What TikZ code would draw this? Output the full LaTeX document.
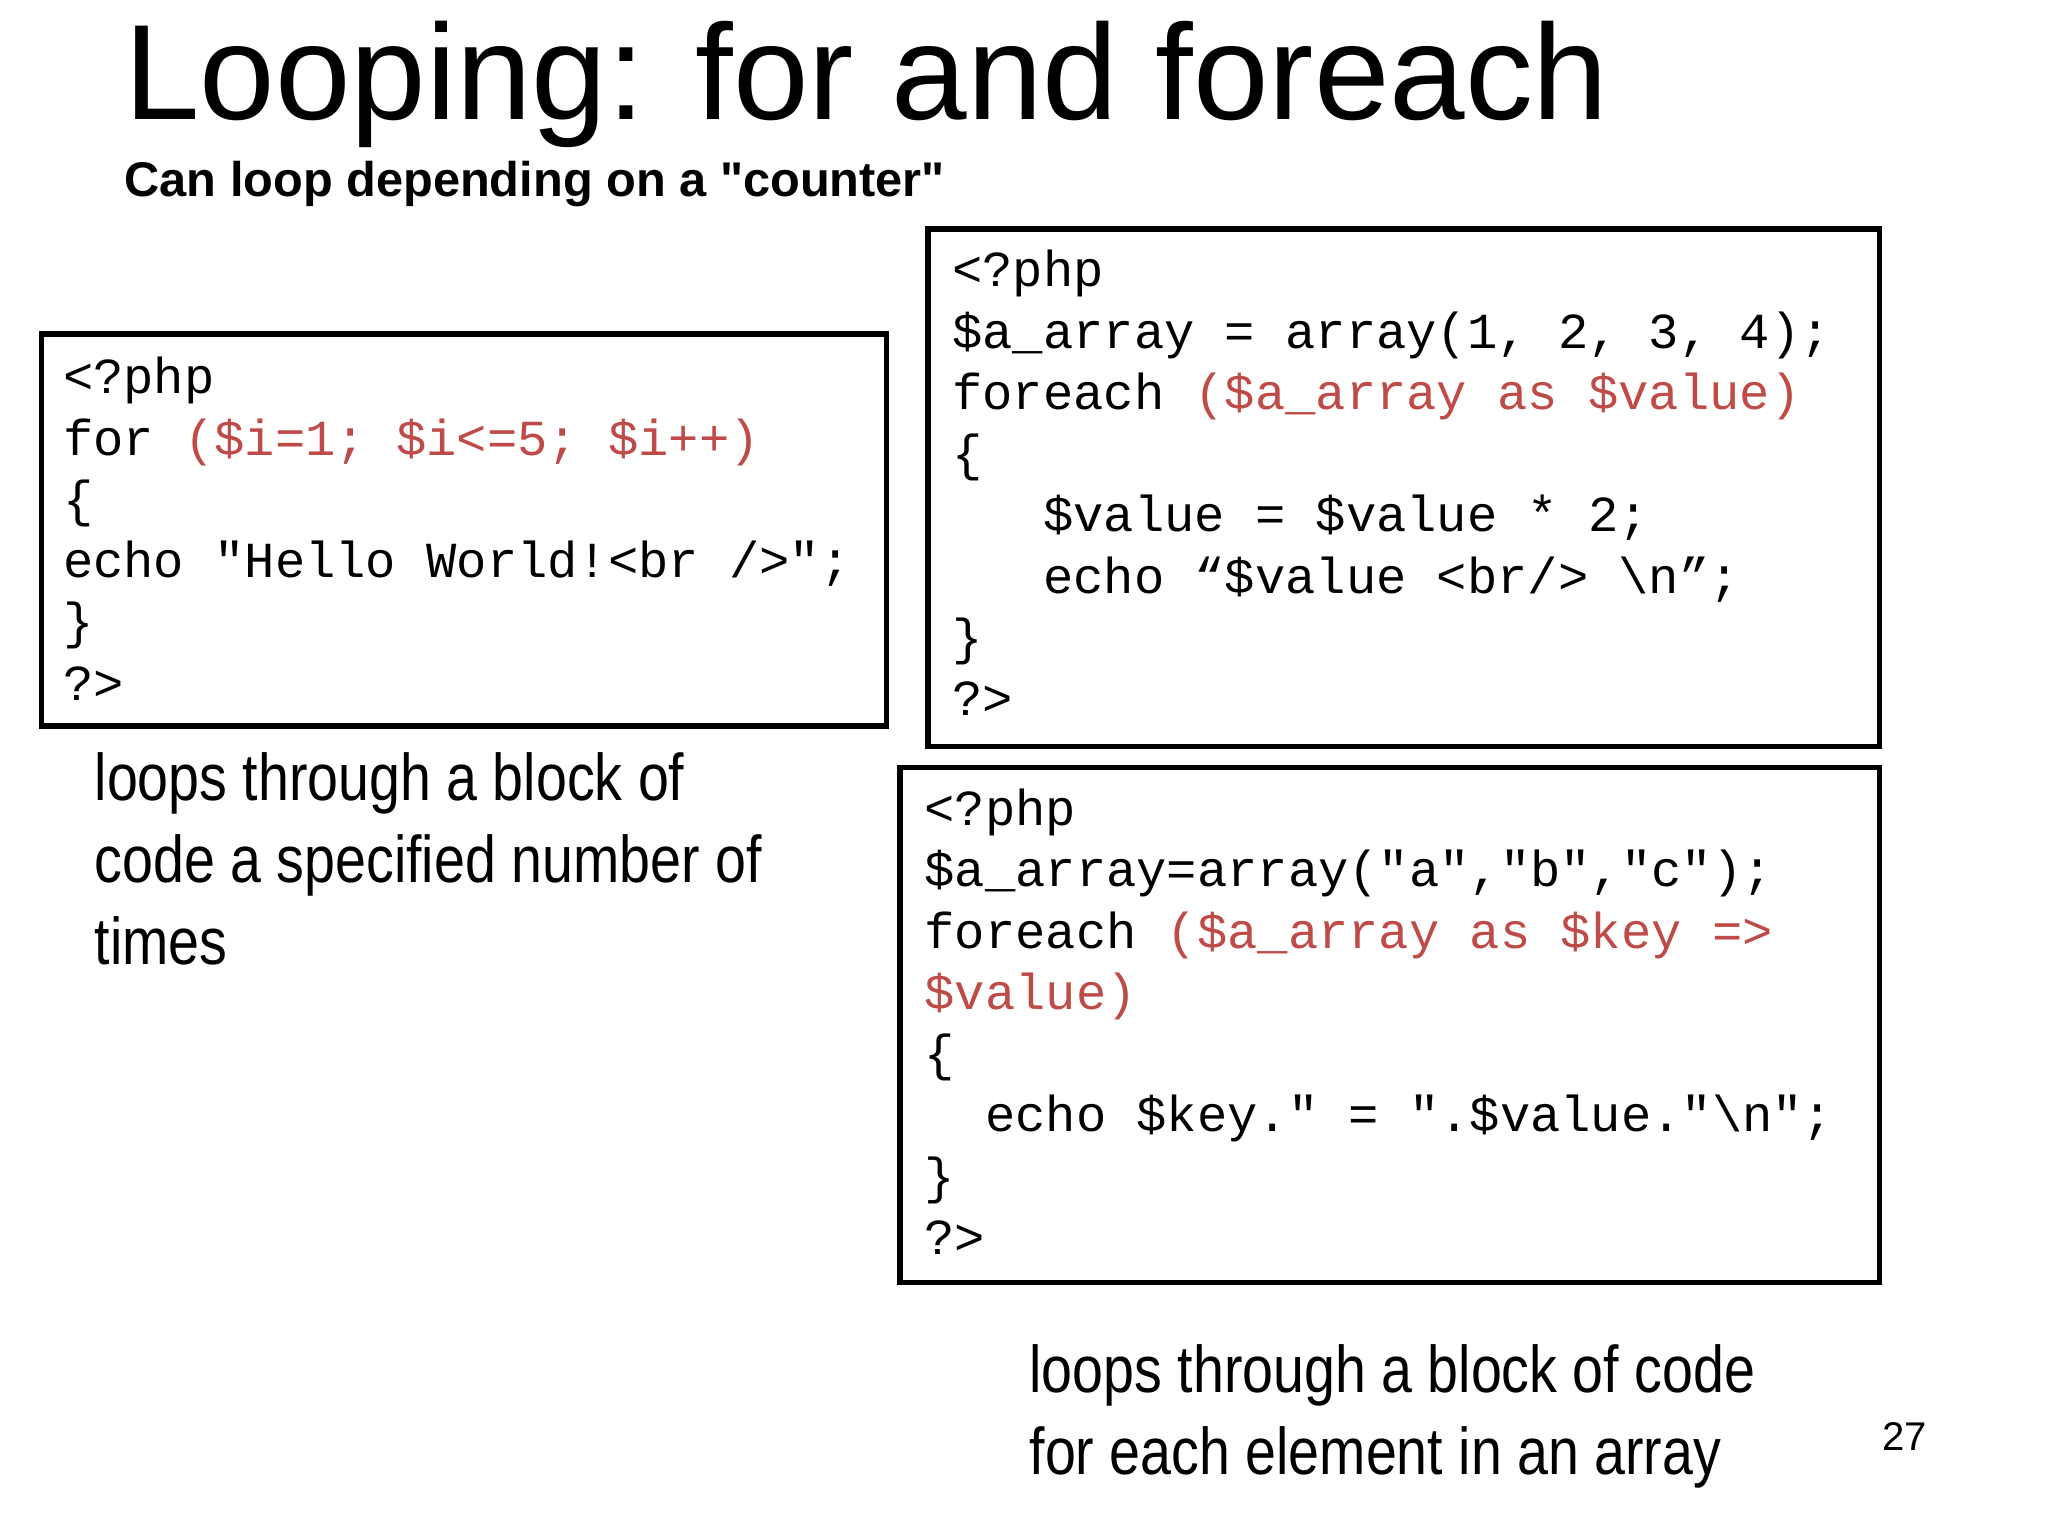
\documentclass[tikz,border=0pt]{standalone}
\usepackage{fontspec}
\setmainfont{Liberation Sans}
\setmonofont{Liberation Mono}
\newfontfamily\plainsans[Ligatures=TeXOff]{Liberation Sans}
\usetikzlibrary{positioning}
\definecolor{codered}{RGB}{190,75,72}
\newcommand{\kw}[1]{\textcolor{codered}{#1}}

\begin{document}
\begin{tikzpicture}
		\useasboundingbox (0,0) rectangle (20.68,-15.51);
		\node (title) [anchor=base west,inner sep=0,font=\fontsize{39}{44}\selectfont] at (1.25,-1.21) {Looping: for and foreach};
		\node (sub) [anchor=base west,inner sep=0,font=\plainsans\fontsize{14}{17}\selectfont\bfseries] at (1.25,-1.98) {Can loop depending on a "counter"};

		\begin{scope}[every path/.style={draw=black,line width=1.6pt}]
			\draw (0.42,-3.37) rectangle (8.95,-7.33);
			\draw (9.37,-2.31) rectangle (18.98,-7.54);
			\draw (9.09,-7.75) rectangle (18.98,-12.95);
		\end{scope}

		\begin{scope}[every node/.style={anchor=north west,inner sep=0,align=left,
					  font=\ttfamily\fontsize{14.5}{17.6}\selectfont}]
			\node (forcode) at (0.63,-3.6) {<?php\\
				for \kw{(\$i=1; \$i<=5; \$i++)}\\
				\{\\
				echo "Hello World!<br />";\\
				\}\\
				?>};
			\node (eachcode) at (9.61,-2.52) {<?php\\
				\$a\_array = array(1, 2, 3, 4);\\
				foreach \kw{(\$a\_array as \$value)}\\
				\{\\
				\ \ \ \$value = \$value * 2;\\
				\ \ \ echo “\$value <br/> \textbackslash n”;\\
				\}\\
				?>};
			\node (keycode) at (9.33,-7.96) {<?php\\
				\$a\_array=array("a","b","c");\\
				foreach \kw{(\$a\_array as \$key =>}\\
				\kw{\$value)}\\
				\{\\
				\ \ echo \$key." = ".\$value."\textbackslash n";\\
				\}\\
				?>};
		\end{scope}

		\begin{scope}[every node/.style={anchor=north west,inner sep=0,align=left,
					  xscale=0.84,transform shape,font=\fontsize{19}{23.6}\selectfont}]
			\node (fornote) at (0.95,-7.59) {loops through a block of\\
				code a specified number of\\
				times};
			\node (eachnote) at (10.39,-13.57) {loops through a block of code\\
				for each element in an array};
		\end{scope}
		\node (page) [anchor=base west,inner sep=0,font=\fontsize{11.5}{14}\selectfont] at (19.0,-14.65) {27};
\end{tikzpicture}
\end{document}
